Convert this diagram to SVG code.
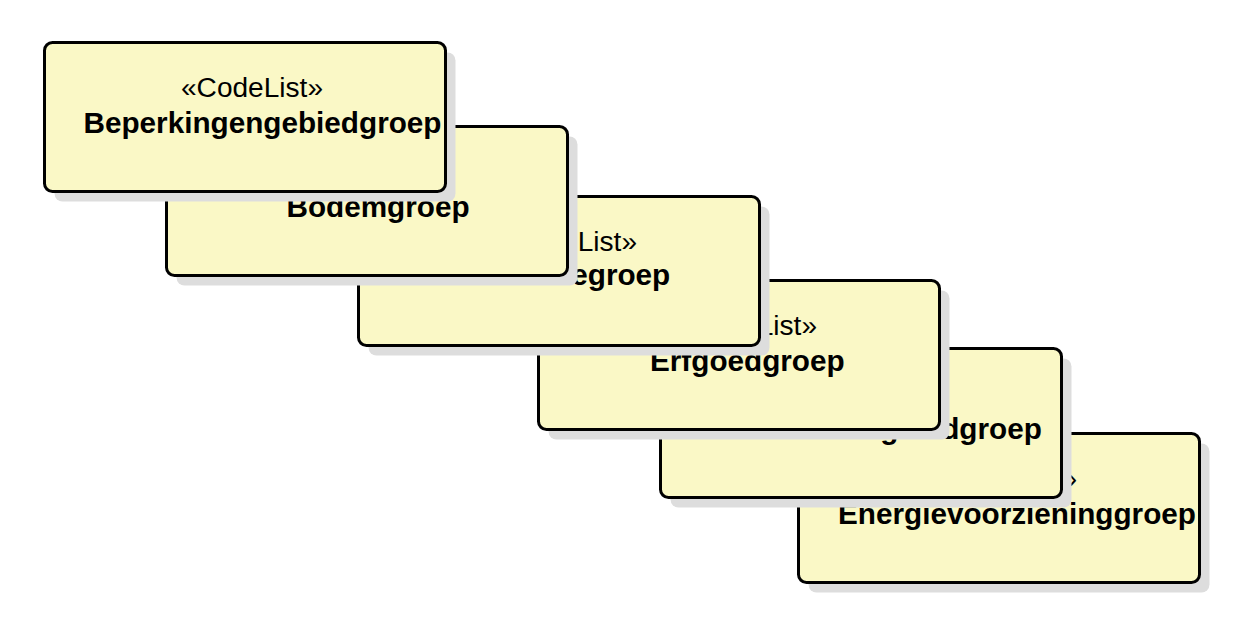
<svg xmlns="http://www.w3.org/2000/svg" width="1256" height="636" viewBox="0 0 1256 636">
<style>
.shadow{fill:#dddddd;stroke:none}
.box{fill:#faf8c6;stroke:#000;stroke-width:3}
.st{font-family:"Liberation Sans",Arial,sans-serif;font-size:27px;fill:#000}
.nm{font-family:"Liberation Sans",Arial,sans-serif;font-size:29.7px;font-weight:bold;fill:#000}
</style>
<rect width="1256" height="636" fill="#ffffff"/>
<g id="connectors"></g>
<g id="energievoorzieninggroep" transform="translate(798.5,433.5)">
<rect class="shadow" x="10" y="10" width="401" height="149" rx="8"/>
<rect class="box" x="0" y="0" width="401" height="149" rx="8"/>
<text class="st" x="136.5" y="54" textLength="142" lengthAdjust="spacingAndGlyphs">«CodeList»</text>
<text class="nm" x="39.5" y="90">Energievoorzieninggroep</text>
</g>
<g id="externeveiligheidgroep" transform="translate(660.5,348.5)">
<rect class="shadow" x="10" y="10" width="401" height="149" rx="8"/>
<rect class="box" x="0" y="0" width="401" height="149" rx="8"/>
<text class="st" x="136.5" y="54" textLength="142" lengthAdjust="spacingAndGlyphs">«CodeList»</text>
<text class="nm" x="53" y="90">Externeveiligheidgroep</text>
</g>
<g id="erfgoedgroep" transform="translate(538.5,280.5)">
<rect class="shadow" x="10" y="10" width="401" height="149" rx="8"/>
<rect class="box" x="0" y="0" width="401" height="149" rx="8"/>
<text class="st" x="136.5" y="54" textLength="142" lengthAdjust="spacingAndGlyphs">«CodeList»</text>
<text class="nm" x="111.5" y="90">Erfgoedgroep</text>
</g>
<g id="defensiegroep" transform="translate(358.5,196.5)">
<rect class="shadow" x="10" y="10" width="401" height="149" rx="8"/>
<rect class="box" x="0" y="0" width="401" height="149" rx="8"/>
<text class="st" x="136.5" y="54" textLength="142" lengthAdjust="spacingAndGlyphs">«CodeList»</text>
<text class="nm" x="105.5" y="88.5">Defensiegroep</text>
</g>
<g id="bodemgroep" transform="translate(166.5,126.5)">
<rect class="shadow" x="10" y="10" width="401" height="149" rx="8"/>
<rect class="box" x="0" y="0" width="401" height="149" rx="8"/>
<text class="st" x="136.5" y="54" textLength="142" lengthAdjust="spacingAndGlyphs">«CodeList»</text>
<text class="nm" x="120" y="90.5">Bodemgroep</text>
</g>
<g id="beperkingengebiedgroep" transform="translate(44.5,42.5)">
<rect class="shadow" x="10" y="10" width="401" height="149" rx="8"/>
<rect class="box" x="0" y="0" width="401" height="149" rx="8"/>
<text class="st" x="136.5" y="54.5" textLength="142" lengthAdjust="spacingAndGlyphs">«CodeList»</text>
<text class="nm" x="39" y="90">Beperkingengebiedgroep</text>
</g>
</svg>
